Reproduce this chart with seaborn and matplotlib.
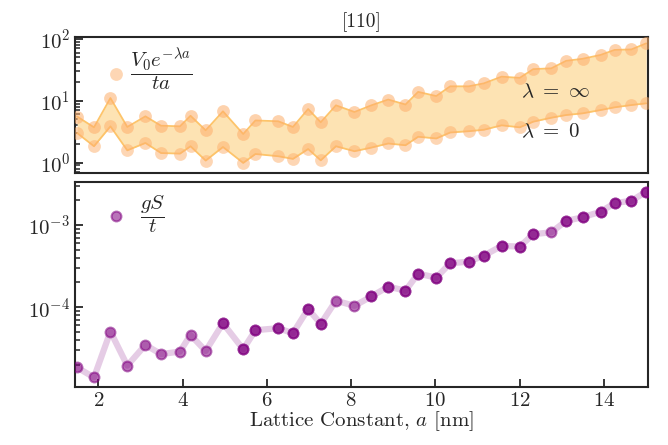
import numpy as np
import pandas as pd
import matplotlib
matplotlib.use('Agg')
from matplotlib import pyplot as plt
import seaborn as sns

# lattice constant along [110] (nm)
a_nm = [1.50, 1.90, 2.29, 2.69, 3.12, 3.49, 3.94, 4.19, 4.55, 4.96, 5.44, 5.73,
        6.27, 6.62, 6.98, 7.28, 7.64, 8.08, 8.48, 8.88, 9.29, 9.59, 10.02, 10.35,
        10.79, 11.15, 11.57, 12.00, 12.32, 12.75, 13.10, 13.49, 13.92, 14.25, 14.65, 15.00]

# V0 exp(-lambda a) / (t a): upper and lower edge of the band
band_upper = [5.56, 3.72, 11.06, 3.77, 5.60, 3.95, 3.86, 5.72, 3.33, 6.75, 2.90, 4.80,
              4.66, 3.77, 7.35, 4.49, 8.43, 6.58, 8.43, 10.45, 8.69, 13.9, 11.9, 17.1,
              17.1, 19.1, 24.5, 23.4, 32.4, 33.4, 44.1, 47.6, 55.0, 66.2, 67.5, 84.5]
band_lower = [3.01, 1.84, 3.86, 1.58, 2.08, 1.43, 1.40, 1.84, 1.08, 1.79, 0.99, 1.38,
              1.27, 1.15, 1.66, 1.09, 1.84, 1.53, 1.75, 2.04, 1.91, 2.62, 2.46, 3.07,
              3.22, 3.40, 4.01, 3.72, 4.59, 5.32, 5.88, 6.26, 7.08, 7.83, 8.53, 9.08]

# gS / t
gs_t = [1.85e-5, 1.40e-5, 5.06e-5, 1.95e-5, 3.48e-5, 2.69e-5, 2.89e-5, 4.60e-5, 2.94e-5,
        6.38e-5, 3.08e-5, 5.25e-5, 5.56e-5, 4.83e-5, 9.53e-5, 6.27e-5, 1.20e-4, 1.04e-4,
        1.35e-4, 1.78e-4, 1.59e-4, 2.56e-4, 2.29e-4, 3.42e-4, 3.58e-4, 4.24e-4, 5.56e-4,
        5.46e-4, 7.71e-4, 8.15e-4, 1.12e-3, 1.24e-3, 1.45e-3, 1.84e-3, 1.97e-3, 2.54e-3]

# points that look lighter (drawn once instead of twice)
light_idx = [0, 1, 2, 3, 4, 5, 6, 7, 8, 16, 17, 29]

df = pd.DataFrame({'a': a_nm, 'upper': band_upper, 'lower': band_lower, 'gs': gs_t})
dark = df.drop(index=light_idx)

sns.set_style('ticks')
plt.rcParams['font.family'] = 'serif'
plt.rcParams['font.serif'] = ['cmr10']
plt.rcParams['mathtext.fontset'] = 'cm'
plt.rcParams['axes.formatter.use_mathtext'] = True
plt.rcParams['axes.linewidth'] = 1.5

fig = plt.figure(figsize=(6.68, 4.45), dpi=100)
ax1 = fig.add_axes([0.1123, 0.6112, 0.8582, 0.3067])
ax2 = fig.add_axes([0.1123, 0.131, 0.8582, 0.4593])

band_fill = '#fde3b3'
band_line = '#fdc46a'
peach = '#fdae6b'
purple = '#800080'

# top panel: band
ax1.fill_between(df['a'], df['lower'], df['upper'], color=band_fill, lw=0)
sns.lineplot(data=df, x='a', y='upper', ax=ax1, color=band_line, lw=1.3)
sns.lineplot(data=df, x='a', y='lower', ax=ax1, color=band_line, lw=1.3)
sns.scatterplot(data=df, x='a', y='upper', ax=ax1, color=peach, alpha=0.55, s=85,
                linewidth=0, zorder=3)
sns.scatterplot(data=df, x='a', y='lower', ax=ax1, color=peach, alpha=0.5, s=85,
                linewidth=0, zorder=3, label=r'$\dfrac{V_0e^{-\lambda a}}{ta}$')
ax1.set_yscale('log')
ax1.set_ylim(0.68, 109)
ax1.text(12.02, 13.8, r'$\lambda\ =\ \infty$', fontsize=15, va='center', ha='left')
ax1.text(12.02, 3.13, r'$\lambda\ =\ 0$', fontsize=15, va='center', ha='left')
ax1.legend(loc='center left', bbox_to_anchor=(0.031, 0.755), frameon=False, fontsize=15,
           handlelength=1.4, handletextpad=0.0, borderaxespad=0)
ax1.set_title('[110]', fontsize=14, pad=7)

# bottom panel: gS/t
sns.lineplot(data=df, x='a', y='gs', ax=ax2, color=purple, lw=4.5, alpha=0.2)
sns.scatterplot(data=df, x='a', y='gs', ax=ax2, color=purple, alpha=0.55, s=50,
                edgecolor=purple, linewidth=1.5, zorder=3, label=r'$\dfrac{gS}{t}$')
sns.scatterplot(data=dark, x='a', y='gs', ax=ax2, color=purple, alpha=0.55, s=50,
                edgecolor=purple, linewidth=1.5, zorder=3)
ax2.set_yscale('log')
ax2.set_ylim(1.08e-5, 3.3e-3)
ax2.legend(loc='center left', bbox_to_anchor=(0.031, 0.845), frameon=False, fontsize=15,
           handlelength=1.4, handletextpad=0.45, borderaxespad=0)

for ax in (ax1, ax2):
    ax.set_xlim(1.45, 15.05)
    ax.set_ylabel('')
    ax.set_xlabel('')
    ax.tick_params(which='both', direction='in', right=False, top=False, labelsize=15)
    ax.tick_params(which='major', length=6, width=1.3)
    ax.tick_params(which='minor', length=3.5, width=1.1)
    for s in ax.spines.values():
        s.set_visible(True)
        s.set_linewidth(1.5)

ax1.tick_params(axis='x', which='both', length=0, labelbottom=False)
ax2.set_xticks([2, 4, 6, 8, 10, 12, 14])
ax2.xaxis.set_minor_locator(matplotlib.ticker.NullLocator())
ax2.set_xlabel(r'Lattice Constant, $a$ [nm]', fontsize=15, labelpad=0)

fig.savefig('out.png', dpi=100)
